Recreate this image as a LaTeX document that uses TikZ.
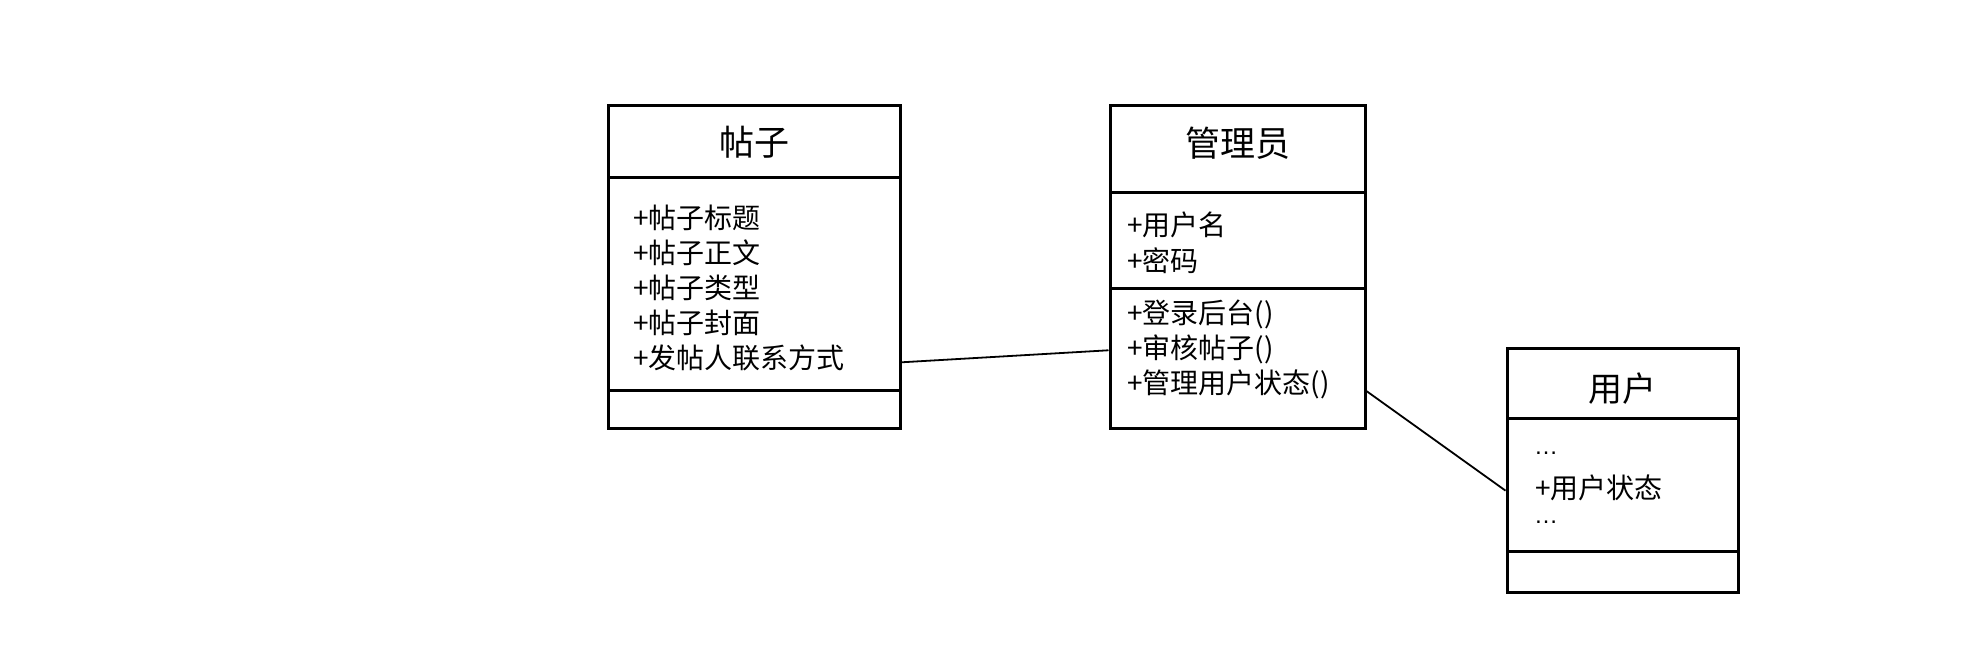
\documentclass[tikz,border=0pt]{standalone}
\usepackage{fontspec}
\setmainfont{Noto Sans CJK SC}
\newfontfamily\dotfont{Liberation Sans}
\begin{document}
\begin{tikzpicture}[x=1pt,y=-1pt,
  classbox/.style={draw=black,line width=3pt,rectangle,inner sep=0pt,minimum width=#1},
  divider/.style={line width=3pt},
  title/.style={font=\fontsize{35}{40}\selectfont,inner sep=0pt,text height=30.8pt,text depth=4.2pt},
  member/.style={font=\fontsize{28}{32}\selectfont,inner sep=0pt,anchor=west,text height=24.6pt,text depth=3.4pt},
  dots/.style={font=\dotfont\fontsize{24}{28}\selectfont,inner sep=0pt,anchor=base west},
  link/.style={line width=1.8pt}]
\useasboundingbox (0,0) rectangle (1978,648);
% boxes
\node[classbox=292pt,minimum height=323pt] (tz) at (754,266.5) {};
\node[classbox=255pt,minimum height=323pt] (mg) at (1237.5,266.5) {};
\node[classbox=231pt,minimum height=244pt] (us) at (1622.5,470) {};
% dividers
\draw[divider] (608,177) -- (900,177);
\draw[divider] (608,390) -- (900,390);
\draw[divider] (1110,192) -- (1365,192);
\draw[divider] (1110,288) -- (1365,288);
\draw[divider] (1507,418) -- (1738,418);
\draw[divider] (1507,551) -- (1738,551);
% titles
\node[title] (tzt) at (754,142) {帖子};
\node[title] (mgt) at (1237.5,143) {管理员};
\node[title,font=\fontsize{34}{40}\selectfont] (ust) at (1622.5,388) {用户};
% 帖子 attributes
\node[member] (tz1) at (633,218) {+帖子标题};
\node[member] (tz2) at (633,253) {+帖子正文};
\node[member] (tz3) at (633,288) {+帖子类型};
\node[member] (tz4) at (633,323) {+帖子封面};
\node[member] (tz5) at (633,358) {+发帖人联系方式};
% 管理员
\node[member] (mg1) at (1127,225) {+用户名};
\node[member] (mg2) at (1127,261) {+密码};
\node[member] (mg3) at (1127,313) {+登录后台()};
\node[member] (mg4) at (1127,348) {+审核帖子()};
\node[member] (mg5) at (1127,383) {+管理用户状态()};
% 用户
\node[dots] (us1) at (1534,454) {…};
\node[member] (us2) at (1535,488) {+用户状态};
\node[dots] (us3) at (1534,523) {…};
% connectors
\draw[link] (tz.-33.8) -- (mg.213.2);
\draw[link] (mg.-44.4) -- (us.190.3);
\end{tikzpicture}
\end{document}
